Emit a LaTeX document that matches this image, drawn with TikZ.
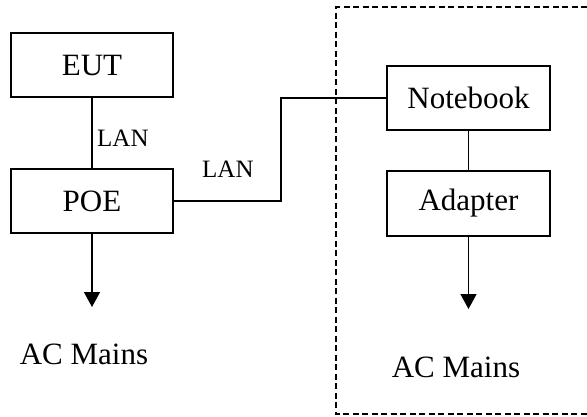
\documentclass[tikz,border=0pt]{standalone}
\usepackage{fontspec}
\setmainfont{Liberation Serif}
\usetikzlibrary{arrows.meta}
\begin{document}
\begin{tikzpicture}[x=1pt,y=-1pt,
  box/.style={draw,line width=1.6pt,minimum width=162pt,minimum height=64pt,inner sep=0pt,font=\fontsize{31}{37}\selectfont},
  conn/.style={line width=1.5pt},
  arr/.style={line width=1.5pt,-{Triangle[length=15pt,width=16pt]}},
  lbl/.style={inner sep=0pt,font=\fontsize{25}{30}\selectfont},
  big/.style={inner sep=0pt,font=\fontsize{31}{37}\selectfont},
  dashbox/.style={line width=1.3pt,dash pattern=on 6pt off 3.5pt}]
\useasboundingbox (0,0) rectangle (587,416);
\node[box] (EUT) at (92,65) {EUT};
\node[box] (POE) at (92,201) {POE};
\node[box,minimum width=163pt] (NB) at (468.5,98) {Notebook};
\node[box,minimum width=163pt,minimum height=65pt] (AD) at (468.5,203.5) {Adapter};
\draw[dashbox] (587,7) -- (336,7) -- (336,414) -- (587,414);
\draw[conn] (EUT) -- (POE);
\draw[conn] (NB) -- (AD);
\draw[conn] (POE.east) -- ++(107,0) |- (NB.west);
\coordinate (acL) at (92,307);
\coordinate (acR) at (468.5,309);
\draw[arr] (POE.south) -- (acL);
\draw[arr] (AD.south) -- (acR);
\node[lbl,anchor=base west] (lan1) at (97,146) {LAN};
\node[lbl,anchor=base west] (lan2) at (202,177) {LAN};
\node[big,anchor=base] (mainsL) at (84,364) {AC Mains};
\node[big,anchor=base] (mainsR) at (456,377) {AC Mains};
\end{tikzpicture}
\end{document}
